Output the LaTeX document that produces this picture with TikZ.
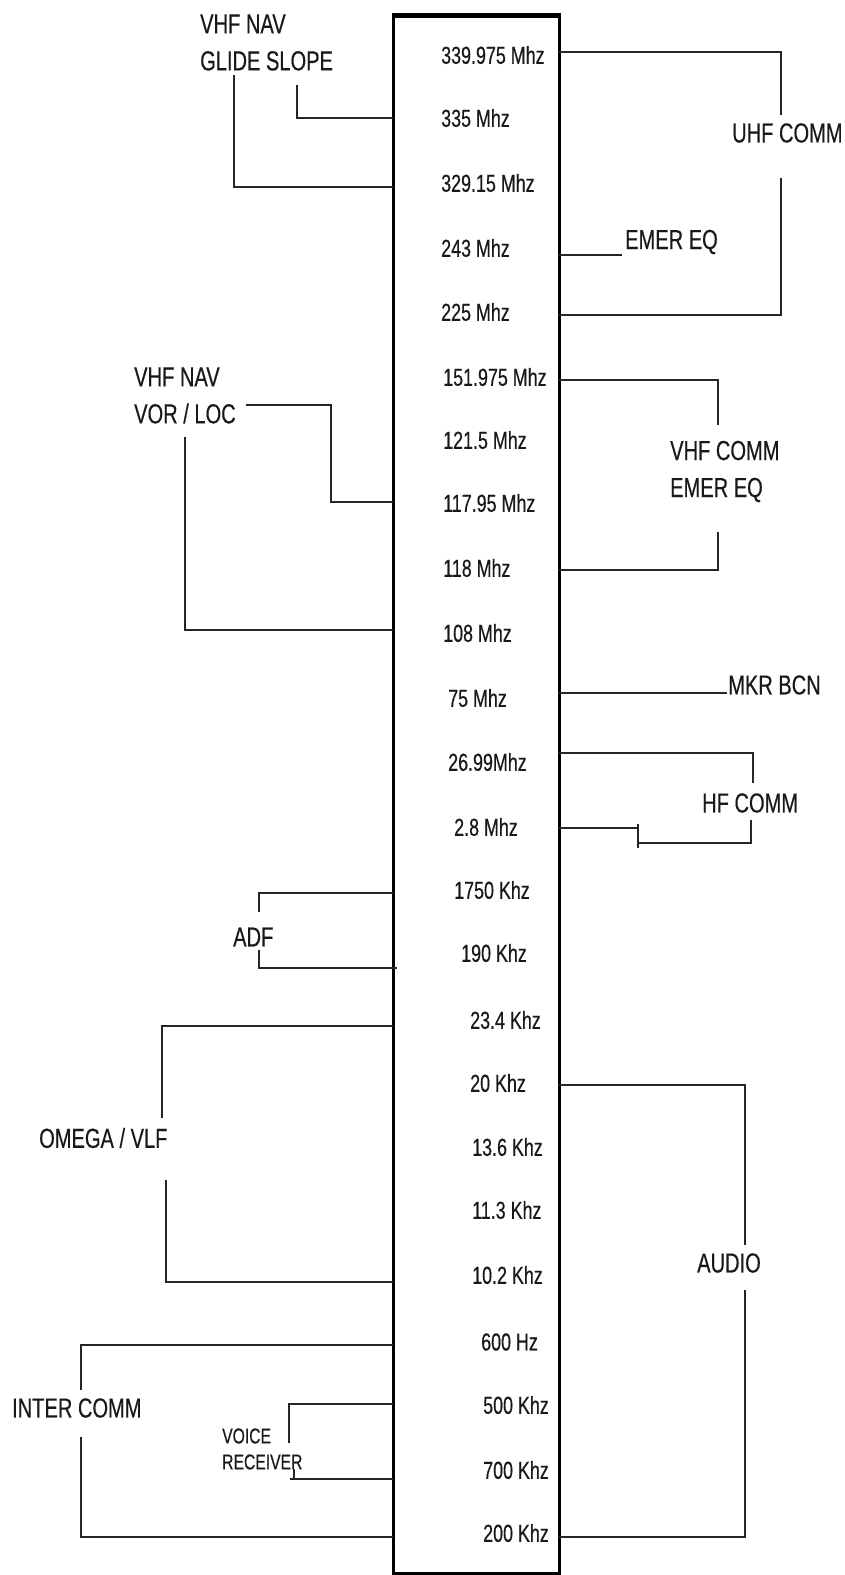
\documentclass[tikz,border=0pt]{standalone}
\usepackage{fontspec}
\setmainfont{Liberation Sans}[FakeStretch=0.73, FakeBold=0.4]
\usetikzlibrary{positioning}

\begin{document}
\begin{tikzpicture}[x=1pt, y=-1pt,
    freq/.style={anchor=west, inner sep=0pt, text=black!90,
                 font=\fontsize{24.5}{29}\selectfont},
    sys/.style={anchor=west, inner sep=0pt, align=left, text=black!90,
                font=\fontsize{27.5}{37}\selectfont},
    small/.style={anchor=west, inner sep=0pt, align=left, text=black!90,
                  font=\fontsize{21.5}{26}\selectfont},
    bar/.style={draw, line width=3pt, inner sep=0pt, outer sep=0pt,
                minimum width=166pt, minimum height=1558pt, anchor=north west},
    wire/.style={line width=2pt, black!85}
]
    \useasboundingbox (0,0) rectangle (845,1575);

    % frequency bus
    \node[bar] (bus) at (393,15) {};
    \draw[line width=5pt] ([xshift=-1.5pt]bus.north west) -- ([xshift=1.5pt]bus.north east);

    \node[freq] (f339) at (441,55)   {339.975 Mhz};
    \node[freq] (f335) at (441,118)  {335 Mhz};
    \node[freq] (f329) at (441,183)  {329.15 Mhz};
    \node[freq] (f243) at (441,248)  {243 Mhz};
    \node[freq] (f225) at (441,312)  {225 Mhz};
    \node[freq] (f151) at (443,377)  {151.975 Mhz};
    \node[freq] (f121) at (443,440)  {121.5 Mhz};
    \node[freq] (f117) at (443,503)  {117.95 Mhz};
    \node[freq] (f118) at (443,568)  {118 Mhz};
    \node[freq] (f108) at (443,633)  {108 Mhz};
    \node[freq] (f75)  at (448,698)  {75 Mhz};
    \node[freq] (f26)  at (448,762)  {26.99Mhz};
    \node[freq] (f2)   at (454,827)  {2.8 Mhz};
    \node[freq] (k1750) at (454,890) {1750 Khz};
    \node[freq] (k190) at (461,953)  {190 Khz};
    \node[freq] (k23)  at (470,1020) {23.4 Khz};
    \node[freq] (k20)  at (470,1083) {20 Khz};
    \node[freq] (k13)  at (472,1147) {13.6 Khz};
    \node[freq] (k11)  at (472,1210) {11.3 Khz};
    \node[freq] (k10)  at (472,1275) {10.2 Khz};
    \node[freq] (h600) at (481,1342) {600 Hz};
    \node[freq] (k500) at (483,1405) {500 Khz};
    \node[freq] (k700) at (483,1470) {700 Khz};
    \node[freq] (k200) at (483,1533) {200 Khz};

    % systems, left
    \node[sys] (glide) at (200,42.5)  {VHF NAV\\GLIDE SLOPE};
    \node[sys] (vor)   at (134,395.5) {VHF NAV\\VOR / LOC};
    \node[sys] (adf)   at (233,937)   {ADF};
    \node[sys] (omega) at (39,1138)   {OMEGA / VLF};
    \node[sys] (inter) at (12,1408)   {INTER COMM};
    \node[small] (voice) at (222,1449) {VOICE\\RECEIVER};

    % systems, right
    \node[sys] (uhf)   at (732,133)   {UHF COMM};
    \node[sys] (emer)  at (625,242)   {EMER EQ};
    \node[sys] (vhfc)  at (670,471.5) {VHF COMM\\EMER EQ};
    \node[sys] (mkr)   at (728,685)   {MKR BCN};
    \node[sys] (hf)    at (702,803)   {HF COMM};
    \node[sys] (audio) at (697,1263)  {AUDIO};

    % left taps
    \draw[wire] (297,85) |- (bus.west |- 0,118);
    \draw[wire] (234,75) |- (bus.west |- 0,187);
    \draw[wire] (246,405) -| (331,502) -- (bus.west |- 0,502);
    \draw[wire] (185,437) |- (bus.west |- 0,630);
    \draw[wire] (259,912) |- (bus.west |- 0,893);
    \draw[wire] (259,950) |- ([xshift=4pt]bus.west |- 0,968);
    \draw[wire] (162,1118) |- (bus.west |- 0,1026);
    \draw[wire] (166,1180) |- (bus.west |- 0,1282);
    \draw[wire] (81,1390) |- (bus.west |- 0,1345);
    \draw[wire] (81,1437) |- (bus.west |- 0,1537);
    \draw[wire] (289,1443) |- (bus.west |- 0,1404);
    \draw[wire] (294,1469) -- (294,1479);
    \draw[wire] (290,1479) -- (bus.west |- 0,1479);

    % right taps
    \draw[wire] (bus.east |- 0,52) -| (781,115);
    \draw[wire] (781,178) |- (bus.east |- 0,315);
    \draw[wire] (bus.east |- 0,255) -- (622,255);
    \draw[wire] (bus.east |- 0,380) -| (718,425);
    \draw[wire] (718,532) |- (bus.east |- 0,570);
    \draw[wire] (bus.east |- 0,693) -- (727,693);
    \draw[wire] (bus.east |- 0,753) -| (753,783);
    \draw[wire] (bus.east |- 0,828) -- (638,828);
    \draw[wire] (638,824) -- (638,848);
    \draw[wire] (638,843) -| (751,820);
    \draw[wire] (bus.east |- 0,1085) -| (745,1245);
    \draw[wire] (745,1290) |- (bus.east |- 0,1537);
\end{tikzpicture}
\end{document}
